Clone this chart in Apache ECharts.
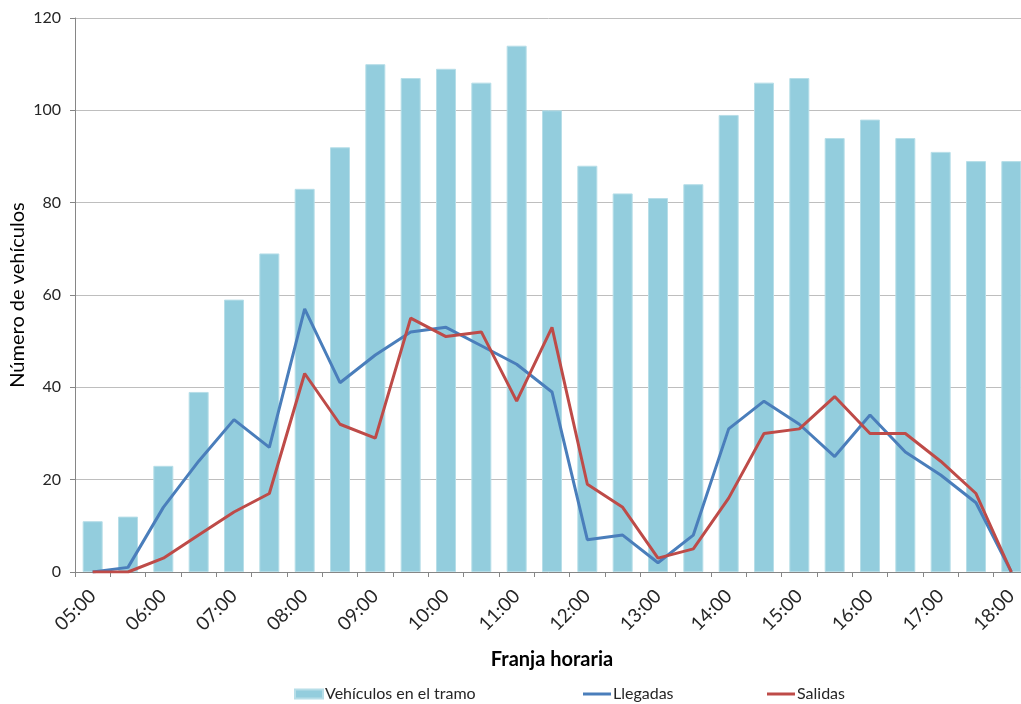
<!DOCTYPE html>
<html>
<head>
<meta charset="utf-8">
<script src="https://cdn.jsdelivr.net/npm/echarts@6/dist/echarts.min.js"></script>
<style>
  html, body { margin: 0; padding: 0; background: #fff; }
  #chart { width: 1021px; height: 704px; }
</style>
</head>
<body>
<div id="chart"></div>
<script>
  // franjas de media hora, 05:00 - 18:00
  const franjas = [
    '05:00', '05:30', '06:00', '06:30', '07:00', '07:30', '08:00', '08:30', '09:00',
    '09:30', '10:00', '10:30', '11:00', '11:30', '12:00', '12:30', '13:00', '13:30',
    '14:00', '14:30', '15:00', '15:30', '16:00', '16:30', '17:00', '17:30', '18:00'
  ]
  const vehiculosTramo = [11, 12, 23, 39, 59, 69, 83, 92, 110, 107, 109, 106, 114, 100,
    88, 82, 81, 84, 99, 106, 107, 94, 98, 94, 91, 89, 89]
  const llegadas = [0, 1, 14, 24, 33, 27, 57, 41, 47, 52, 53, 49, 45, 39,
    7, 8, 2, 8, 31, 37, 32, 25, 34, 26, 21, 15, 0]
  const salidas = [0, 0, 3, 8, 13, 17, 43, 32, 29, 55, 51, 52, 37, 53,
    19, 14, 3, 5, 16, 30, 31, 38, 30, 30, 24, 17, 0]
  const yTicks = [0, 20, 40, 60, 80, 100, 120]

  const font = 'Lato, "Open Sans", sans-serif'
  const legendText = { fontFamily: font, fontSize: 16, color: '#262626', padding: [0, 0, 0, -3] }
  const chart = echarts.init(document.getElementById('chart'))

  // una leyenda por serie, como en el original de Excel
  function legendItem (name, left, height) {
    return {
      left,
      top: 681,
      itemWidth: 28,
      itemHeight: height,
      textStyle: legendText,
      data: [{ name, icon: 'rect' }]
    }
  }

  chart.setOption({
    animation: false,
    backgroundColor: '#fff',
    textStyle: { fontFamily: font },
    grid: { left: 75, right: -8, top: 18, bottom: 132, outerBoundsMode: 'none', containLabel: false },
    legend: [
      legendItem('Vehículos en el tramo', 289, 9),
      legendItem('Llegadas', 578, 3),
      legendItem('Salidas', 762, 3)
    ],
    xAxis: {
      type: 'category',
      data: franjas,
      boundaryGap: true,
      name: 'Franja horaria',
      nameLocation: 'middle',
      nameGap: 78,
      nameMoveOverlap: false,
      nameTextStyle: { fontFamily: font, fontSize: 20, fontWeight: 'bold', color: '#000' },
      axisLine: { lineStyle: { color: '#868686', width: 1 } },
      axisTick: { show: true, interval: 0, length: 5, lineStyle: { color: '#868686' } },
      axisLabel: {
        interval: 1,
        rotate: 45,
        margin: 21,
        fontFamily: font,
        fontSize: 19,
        color: '#262626'
      },
      splitLine: { show: false }
    },
    yAxis: {
      type: 'value',
      min: yTicks[0],
      max: yTicks[yTicks.length - 1],
      interval: 20,
      name: 'Número de vehículos',
      nameLocation: 'middle',
      nameGap: 47,
      nameMoveOverlap: false,
      nameTextStyle: { fontFamily: font, fontSize: 20, color: '#000' },
      axisLine: { show: true, lineStyle: { color: '#868686', width: 1 } },
      axisTick: { show: true, length: 5, lineStyle: { color: '#868686' } },
      axisLabel: { margin: 14, fontFamily: font, fontSize: 16, color: '#262626' },
      splitLine: { lineStyle: { color: '#BEBEBE', width: 1 } }
    },
    series: [
      {
        name: 'Vehículos en el tramo',
        type: 'bar',
        data: vehiculosTramo,
        barWidth: 20,
        itemStyle: { color: '#93CDDD', borderColor: '#B7DEE8', borderWidth: 1 }
      },
      {
        name: 'Llegadas',
        type: 'line',
        data: llegadas,
        symbol: 'none',
        lineStyle: { color: '#4A7EBB', width: 3 },
        itemStyle: { color: '#4A7EBB' }
      },
      {
        name: 'Salidas',
        type: 'line',
        data: salidas,
        symbol: 'none',
        lineStyle: { color: '#BE4B48', width: 3 },
        itemStyle: { color: '#BE4B48' }
      }
    ]
  })
</script>
</body>
</html>
